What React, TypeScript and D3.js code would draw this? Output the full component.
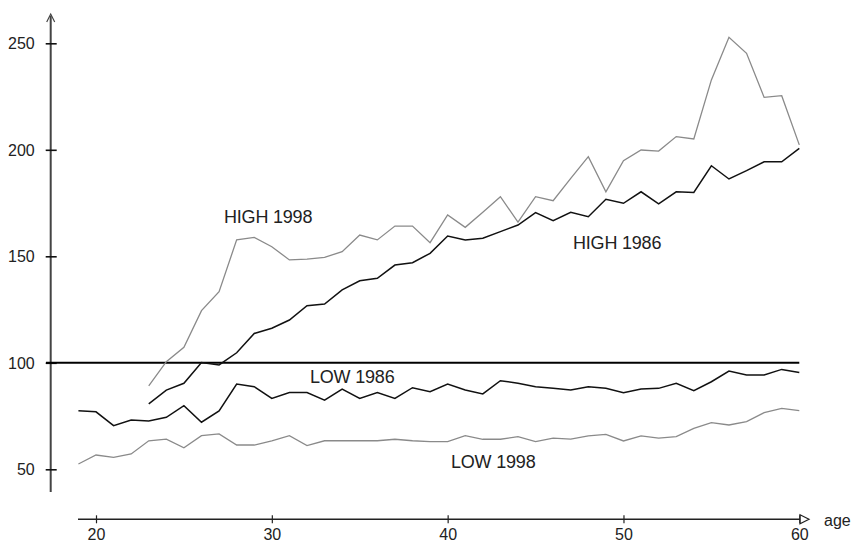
import React, { useEffect, useRef } from "react";
import * as d3 from "d3";

const lowAges = d3.range(19, 61);
const highAges = d3.range(23, 61);

const low1986 = [77.5, 77.0, 70.5, 73.1, 72.7, 74.4, 79.9, 72.1, 77.4, 90.0, 88.8, 83.3, 86.0, 86.0, 82.5, 87.7, 83.3, 86.0, 83.3, 88.3, 86.4, 90.0,
  87.2, 85.4, 91.6, 90.4, 88.8, 88.0, 87.2, 88.8, 88.0, 86.0, 87.7, 88.0, 90.4, 86.9, 91.1, 96.1, 94.3, 94.3, 96.9, 95.4];
const low1998 = [52.5, 56.7, 55.6, 57.2, 63.4, 64.2, 60.1, 65.8, 66.6, 61.4, 61.4, 63.3, 65.8, 61.1, 63.4, 63.4, 63.4, 63.4, 64.1, 63.4, 63.0, 63.0,
  65.8, 64.1, 64.1, 65.3, 63.0, 64.6, 64.2, 65.7, 66.4, 63.3, 65.7, 64.6, 65.3, 69.2, 71.9, 70.8, 72.4, 76.6, 78.6, 77.5];
const high1986 = [80.7, 87.2, 90.4, 100.1, 99.0, 104.7, 113.8, 116.2, 120.1, 126.8, 127.6, 134.2, 138.5, 139.7, 145.9, 147.0, 151.4, 159.5,
  157.7, 158.5, 161.6, 164.7, 170.5, 166.7, 170.7, 168.6, 176.8, 174.9, 180.3, 174.6, 180.3, 180.0, 192.5, 186.3, 190.2, 194.4, 194.4, 200.7];
const high1998 = [89.2, 100.5, 107.3, 124.5, 133.4, 157.7, 158.9, 154.5, 148.3, 148.7, 149.5, 152.2, 160.0, 157.7, 164.2, 164.2, 156.4, 169.4,
  163.6, 170.7, 178.0, 166.0, 178.0, 176.1, 186.6, 196.8, 180.3, 194.9, 199.9, 199.4, 206.2, 205.1, 232.8, 252.8, 245.3, 224.6, 225.4, 202.3];

const xTicks = [20, 30, 40, 50, 60];
const yTicks = [50, 100, 150, 200, 250];
const refValue = 100;

const seriesLabels = [
  { text: "HIGH 1998", x: 224, y: 223 },
  { text: "HIGH 1986", x: 573, y: 249 },
  { text: "LOW 1986", x: 310, y: 383 },
  { text: "LOW 1998", x: 451, y: 468 },
];

const FONT = "'Liberation Sans', Arial, sans-serif";

export default function App() {
  const xAxisRef = useRef<SVGGElement>(null);
  const yAxisRef = useRef<SVGGElement>(null);

  const x = d3.scaleLinear().domain([20, 60]).range([96, 799.3]);
  const y = d3.scaleLinear().domain([50, 250]).range([469.3, 43.3]);

  const line = d3
    .line<[number, number]>()
    .x((d) => x(d[0]))
    .y((d) => y(d[1]));

  const pts = (ages: number[], vals: number[]) => ages.map((a, i) => [a, vals[i]] as [number, number]);

  useEffect(() => {
    const xa = d3.select(xAxisRef.current!);
    xa.call(d3.axisBottom(x).tickValues(xTicks).tickSize(4).tickPadding(8).tickFormat(d3.format("d")) as any);
    xa.select(".domain").remove();
    xa.selectAll(".tick line").attr("y1", -4).attr("y2", 4).attr("stroke", "#222").attr("stroke-width", 1.2);
    xa.selectAll(".tick text").attr("font-family", FONT).attr("font-size", 16).attr("fill", "#222").attr("y", 8).attr("dy", "0.8em");

    const ya = d3.select(yAxisRef.current!);
    ya.call(d3.axisLeft(y).tickValues(yTicks).tickSize(5).tickPadding(11).tickFormat(d3.format("d")) as any);
    ya.select(".domain").remove();
    ya.selectAll(".tick line").attr("x1", 6).attr("x2", -5).attr("stroke", "#111").attr("stroke-width", 1.6);
    ya.selectAll(".tick text").attr("font-family", FONT).attr("font-size", 16).attr("fill", "#222").attr("dy", "0.35em");
  }, []);

  const axX = 50.7;
  const axY = 519.3;

  return (
    <svg width={858} height={544} style={{ position: "absolute", left: 0, top: 0, background: "#fff" }}>
      <rect width={858} height={544} fill="#fff" />
      {/* y axis */}
      <line x1={axX} y1={16} x2={axX} y2={492} stroke="#444" strokeWidth={2} />
      <polyline points={`${axX - 4},22 ${axX},14 ${axX + 4},22`} fill="none" stroke="#444" strokeWidth={1.2} />
      <g ref={yAxisRef} transform={`translate(${axX},0)`} />
      {/* x axis */}
      <line x1={78} y1={axY} x2={800} y2={axY} stroke="#222" strokeWidth={1.5} />
      <polygon points={`800,${axY - 4.5} 809,${axY} 800,${axY + 4.5}`} fill="#fff" stroke="#222" strokeWidth={1.2} />
      <g ref={xAxisRef} transform={`translate(0,${axY})`} />
      <text x={824} y={526} fontFamily={FONT} fontSize={16} fill="#222">age</text>
      {/* reference line */}
      <line x1={46} y1={y(refValue)} x2={x(60)} y2={y(refValue)} stroke="#000" strokeWidth={2} />
      {/* series */}
      <path d={line(pts(lowAges, low1998))!} fill="none" stroke="#8a8a8a" strokeWidth={1.3} />
      <path d={line(pts(highAges, high1998))!} fill="none" stroke="#8a8a8a" strokeWidth={1.3} />
      <path d={line(pts(lowAges, low1986))!} fill="none" stroke="#111" strokeWidth={1.5} />
      <path d={line(pts(highAges, high1986))!} fill="none" stroke="#111" strokeWidth={1.5} />
      {seriesLabels.map((l) => (
        <text key={l.text} x={l.x} y={l.y} fontFamily={FONT} fontSize={18} fill="#222" letterSpacing={-0.2}>
          {l.text}
        </text>
      ))}
    </svg>
  );
}
